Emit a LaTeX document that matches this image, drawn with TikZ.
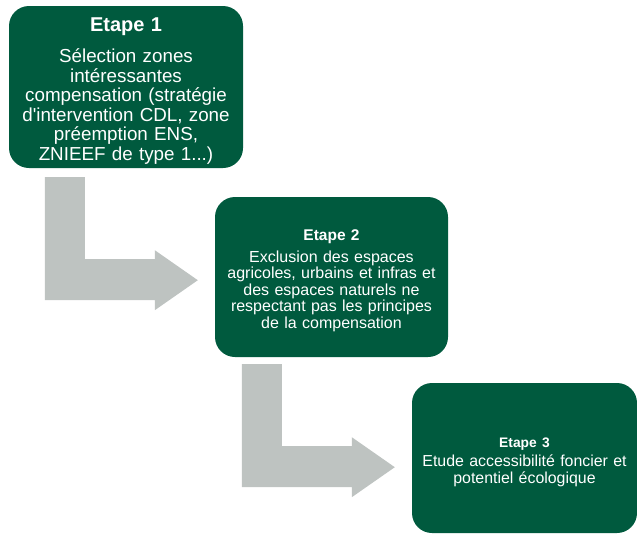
\documentclass[tikz,border=0pt]{standalone}
\usepackage{fontspec}
\setmainfont{Liberation Sans}
\usetikzlibrary{calc}
\definecolor{stepgreen}{HTML}{005A3E}
\definecolor{arrowgray}{HTML}{BEC3C1}
% bold step title; the strut pushes the text block down a little
\newcommand{\steptitle}[3]{{\bfseries\fontsize{#1}{#1}\selectfont\rule{0pt}{#2}#3}}
\tikzset{
  stepbox/.style ={fill=stepgreen, rounded corners=20pt, text=white,
                   align=center, inner sep=0pt, text width=#1},
  bendarrow/.pic ={\fill[arrowgray] (0,0) -- (40,0) -- (40,82) -- (110,82)
                   -- (110,73) -- (153,103) -- (110,133) -- (110,123)
                   -- (0,123) -- cycle;}
}
\begin{document}
\begin{tikzpicture}[x=1pt, y=-1pt]
  \useasboundingbox (0,0) rectangle (637,542);

  \node[stepbox=228pt, minimum width=234pt, minimum height=162pt,
        font=\fontsize{18.8}{19.5}\selectfont] (step1) at (126,87)
    {\steptitle{20}{21.5pt}{Etape 1}\\[11.5pt]
     Sélection zones\\ intéressantes\\ compensation (stratégie\\
     d\textquotesingle intervention CDL, zone\\ préemption ENS,\\ ZNIEEF de type 1...)};

  \node[stepbox=228pt, minimum width=233pt, minimum height=160pt,
        font=\fontsize{16}{16.5}\selectfont] (step2) at (331.5,277)
    {\steptitle{15.5}{18pt}{Etape 2}\\[5.5pt]
     Exclusion des espaces\\ agricoles, urbains et infras et\\
     des espaces naturels ne\\ respectant pas les principes\\ de la compensation};

  \node[stepbox=222pt, minimum width=225pt, minimum height=150pt,
        font=\fontsize{15.9}{17.5}\selectfont] (step3) at (524.5,458)
    {\steptitle{13.8}{18pt}{Etape 3}\\[1.5pt]
     Etude accessibilité foncier et\\ potentiel écologique};

  % arrows between the steps
  \pic at ($(step1.south west)+(36,9)$) {bendarrow};
  \pic at ($(step2.south west)+(27,7)$) {bendarrow};
\end{tikzpicture}
\end{document}
